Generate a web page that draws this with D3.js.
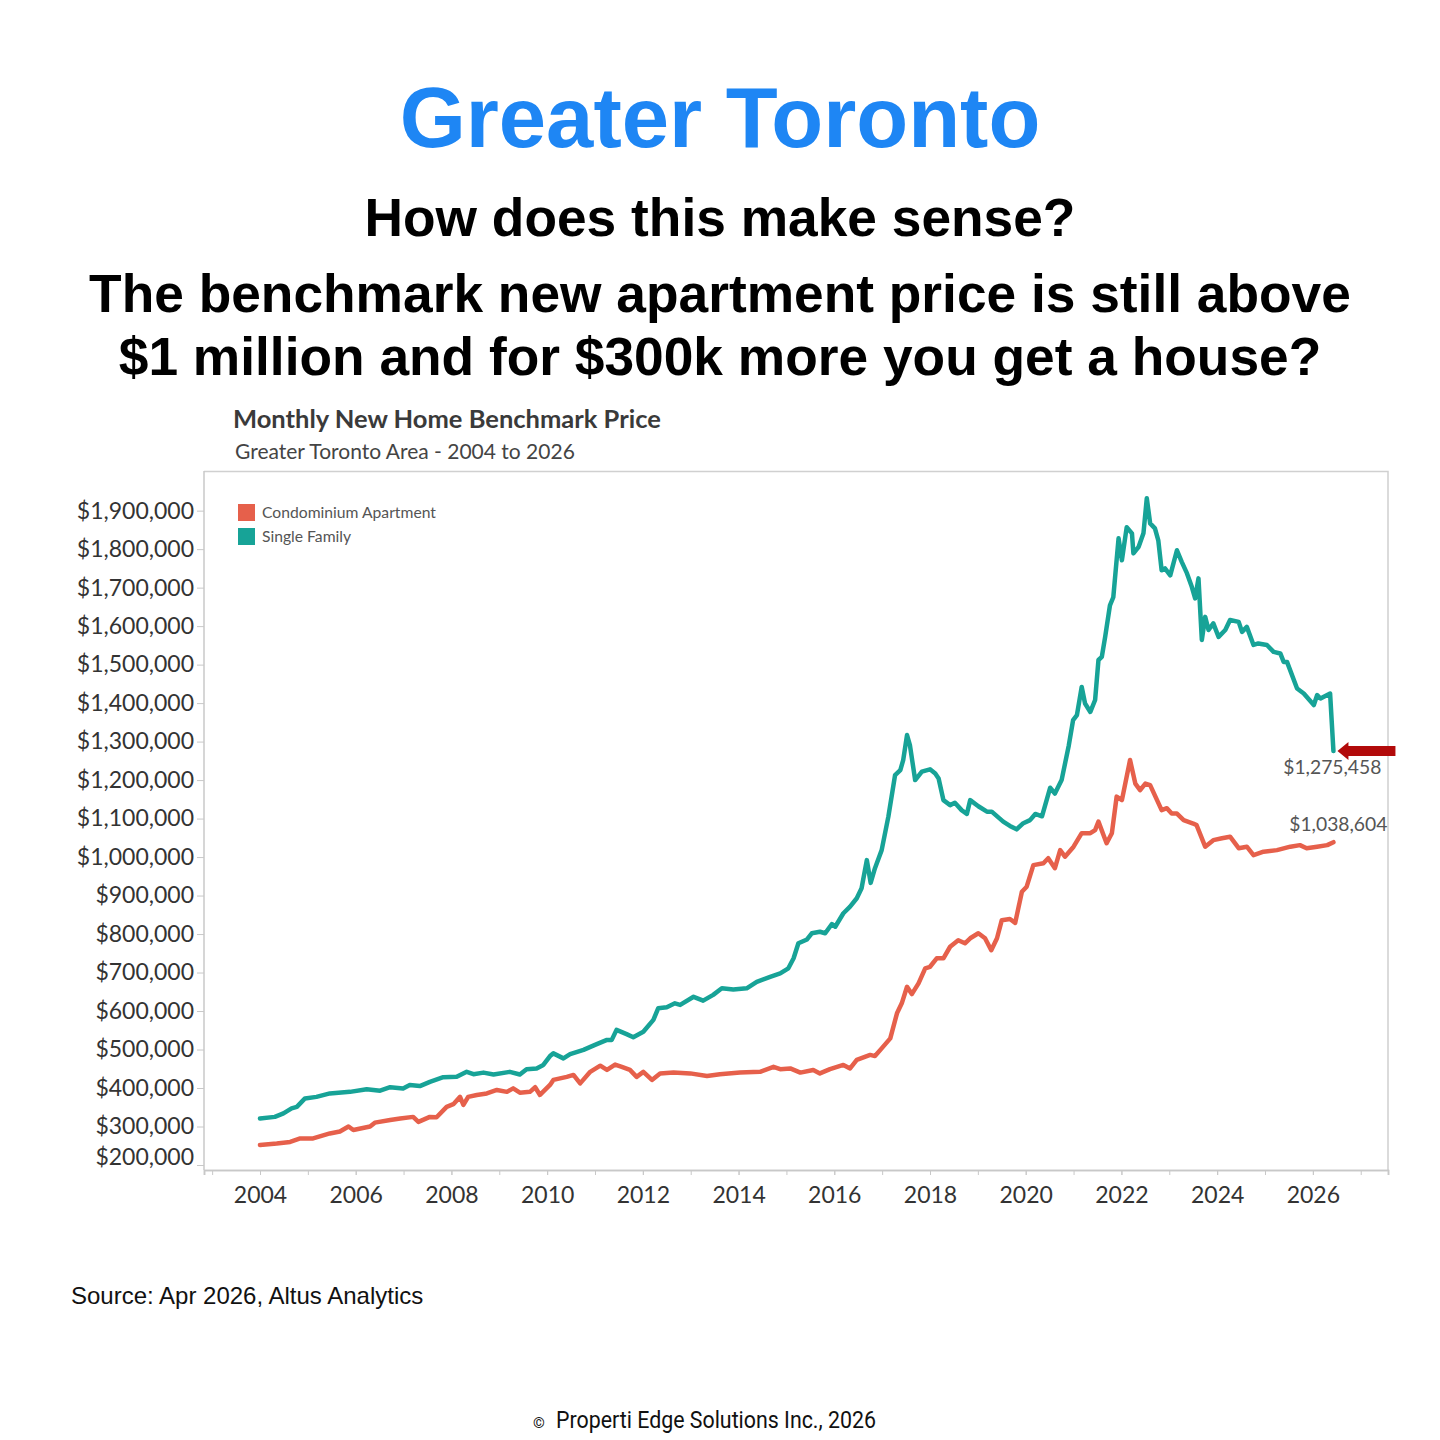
<!DOCTYPE html>
<html>
<head>
<meta charset="utf-8">
<script src="https://cdn.jsdelivr.net/npm/d3@7"></script>
<style>
  body { margin: 0; background: #fff; }
  svg { display: block; }
</style>
</head>
<body>
<div id="vis"></div>
<script>
// monthly new home benchmark price
let sfYears = [2004.00,2004.31,2004.49,2004.66,2004.77,2004.94,2005.18,2005.46,2005.88,2006.23,2006.51,2006.72,2006.99,2007.13,2007.34,2007.55,2007.83,2008.11,2008.32,2008.46,2008.67,2008.88,2009.22,2009.43,2009.57,2009.78,2009.92,2010.06,2010.13,2010.34,2010.48,2010.76,2011.00,2011.25,2011.35,2011.45,2011.66,2011.80,2012.01,2012.22,2012.32,2012.50,2012.67,2012.78,2013.06,2013.26,2013.47,2013.65,2013.89,2014.17,2014.38,2014.66,2014.87,2015.04,2015.15,2015.25,2015.43,2015.53,2015.70,2015.81,2015.95,2016.02,2016.19,2016.33,2016.47,2016.57,2016.68,2016.76,2016.85,2016.99,2017.13,2017.27,2017.38,2017.44,2017.52,2017.58,2017.69,2017.83,2018.00,2018.11,2018.18,2018.28,2018.42,2018.52,2018.66,2018.77,2018.84,2019.01,2019.19,2019.29,2019.53,2019.67,2019.81,2019.95,2020.09,2020.20,2020.34,2020.51,2020.61,2020.75,2020.90,2020.99,2021.07,2021.17,2021.24,2021.35,2021.45,2021.52,2021.59,2021.66,2021.76,2021.83,2021.94,2022.01,2022.11,2022.22,2022.25,2022.36,2022.46,2022.53,2022.60,2022.70,2022.77,2022.84,2022.91,2023.02,2023.16,2023.26,2023.37,2023.47,2023.54,2023.61,2023.68,2023.75,2023.82,2023.92,2024.03,2024.17,2024.27,2024.45,2024.52,2024.62,2024.76,2024.86,2025.04,2025.18,2025.32,2025.39,2025.46,2025.67,2025.81,2026.02,2026.09,2026.16,2026.36,2026.43]
let sfValues = [321000,325000,334000,347000,351000,373000,377000,386000,390000,397000,393000,402000,399000,408000,405000,416000,428000,429000,442000,436000,440000,435000,442000,435000,449000,451000,460000,483000,490000,477000,488000,499000,512000,525000,525000,551000,540000,532000,546000,577000,607000,610000,620000,616000,637000,627000,642000,659000,656000,659000,676000,689000,698000,711000,737000,776000,786000,802000,806000,802000,826000,819000,854000,871000,893000,919000,992000,933000,971000,1018000,1105000,1213000,1226000,1252000,1317000,1291000,1200000,1222000,1228000,1217000,1204000,1148000,1135000,1141000,1122000,1112000,1148000,1132000,1118000,1118000,1092000,1081000,1072000,1088000,1096000,1112000,1106000,1180000,1165000,1200000,1290000,1356000,1369000,1442000,1399000,1377000,1408000,1512000,1520000,1572000,1654000,1675000,1828000,1771000,1857000,1841000,1789000,1806000,1841000,1932000,1867000,1854000,1823000,1745000,1750000,1732000,1797000,1767000,1737000,1702000,1672000,1724000,1564000,1624000,1590000,1607000,1572000,1590000,1616000,1611000,1585000,1598000,1551000,1555000,1551000,1533000,1529000,1507000,1507000,1438000,1425000,1395000,1421000,1412000,1425000,1275458]

let condoYears = [2004.00,2004.35,2004.63,2004.84,2005.11,2005.46,2005.67,2005.85,2005.95,2006.30,2006.40,2006.72,2006.93,2007.20,2007.31,2007.55,2007.69,2007.90,2008.04,2008.18,2008.25,2008.35,2008.53,2008.74,2008.95,2009.16,2009.29,2009.43,2009.64,2009.75,2009.85,2010.06,2010.13,2010.41,2010.55,2010.69,2010.90,2011.11,2011.25,2011.42,2011.56,2011.73,2011.87,2012.01,2012.19,2012.36,2012.64,2012.99,2013.34,2013.61,2014.03,2014.45,2014.73,2014.87,2015.08,2015.29,2015.56,2015.70,2015.91,2016.19,2016.33,2016.47,2016.75,2016.85,2016.99,2017.17,2017.31,2017.41,2017.52,2017.62,2017.76,2017.90,2018.00,2018.14,2018.28,2018.42,2018.59,2018.73,2018.84,2019.01,2019.15,2019.28,2019.40,2019.50,2019.67,2019.78,2019.92,2020.02,2020.16,2020.37,2020.47,2020.61,2020.72,2020.82,2021.00,2021.17,2021.35,2021.45,2021.52,2021.69,2021.80,2021.90,2022.01,2022.18,2022.29,2022.39,2022.50,2022.60,2022.84,2022.95,2023.05,2023.16,2023.30,2023.50,2023.57,2023.75,2023.92,2024.10,2024.27,2024.45,2024.62,2024.76,2024.97,2025.25,2025.53,2025.73,2025.87,2026.09,2026.30,2026.43]
let condoValues = [252000,256000,260000,269000,269000,282000,287000,300000,291000,300000,310000,317000,321000,325000,312000,325000,324000,351000,358000,377000,356000,377000,382000,386000,395000,390000,399000,388000,390000,402000,382000,408000,421000,429000,434000,412000,442000,458000,447000,461000,455000,447000,429000,442000,421000,438000,440000,438000,431000,436000,440000,442000,455000,449000,451000,440000,447000,438000,449000,460000,451000,473000,486000,483000,503000,529000,594000,620000,663000,644000,672000,711000,715000,737000,737000,767000,784000,776000,789000,802000,789000,758000,789000,836000,839000,829000,910000,923000,979000,984000,997000,971000,1018000,1001000,1027000,1062000,1062000,1070000,1092000,1036000,1062000,1157000,1148000,1252000,1191000,1174000,1191000,1187000,1122000,1127000,1113000,1113000,1096000,1087000,1083000,1027000,1044000,1049000,1053000,1023000,1027000,1005000,1014000,1018000,1027000,1031000,1023000,1027000,1031000,1038604]

let seriesNames = ['Condominium Apartment', 'Single Family']
let seriesColors = ['#e6604b', '#17a397']

let yTickValues = d3.range(200000, 1900001, 100000)
let xLabelYears = d3.range(2004, 2027, 2)
let xMinorYears = d3.range(2003, 2028, 1)

let width = 1440, height = 1440
let margin = {top: 471, right: 52, bottom: 270, left: 204}

let svg = d3.select('#vis')
  .append('svg')
  .attr('width', width)
  .attr('height', height)

svg.append('rect').attr('width', width).attr('height', height).attr('fill', '#fff')

// headline texts
svg.append('text')
  .attr('x', 720).attr('y', 147)
  .attr('text-anchor', 'middle')
  .style('font-family', 'Liberation Sans, Arial, sans-serif')
  .style('font-weight', 'bold')
  .style('font-size', '85px')
  .attr('fill', '#1e86f4')
  .text('Greater Toronto')

let heads = [
  {t: 'How does this make sense?', y: 236},
  {t: 'The benchmark new apartment price is still above', y: 312},
  {t: '$1 million and for $300k more you get a house?', y: 375}
]
svg.selectAll('.head')
  .data(heads)
  .join('text')
  .attr('class', 'head')
  .attr('x', 720)
  .attr('y', d => d.y)
  .attr('text-anchor', 'middle')
  .style('font-family', 'Liberation Sans, Arial, sans-serif')
  .style('font-weight', 'bold')
  .style('font-size', '53.3px')
  .attr('fill', '#000')
  .text(d => d.t)

// chart title
svg.append('text')
  .attr('x', 233).attr('y', 428)
  .style('font-family', 'Lato, sans-serif')
  .style('font-weight', 'bold')
  .style('font-size', '25.5px')
  .attr('fill', '#3a3a3a')
  .text('Monthly New Home Benchmark Price')

svg.append('text')
  .attr('x', 235).attr('y', 459)
  .style('font-family', 'Lato, sans-serif')
  .style('font-size', '21px')
  .attr('fill', '#444')
  .text('Greater Toronto Area - 2004 to 2026')

let innerW = width - margin.left - margin.right
let innerH = height - margin.top - margin.bottom

let g = svg.append('g')
  .attr('transform', `translate(${margin.left},${margin.top})`)

let xScale = d3.scaleLinear()
  .domain([2002.83, 2027.57])
  .range([0, innerW])

let yScale = d3.scaleLinear()
  .domain([187000, 2003000])
  .range([innerH, 0])

// frame top + right
g.append('path')
  .attr('d', `M0,0.5H${innerW}V${innerH}`)
  .attr('fill', 'none')
  .attr('stroke', '#d0d0d0')
  .attr('stroke-width', 1.5)

// x axis
let xMinor = g.append('g')
  .attr('transform', `translate(0,${innerH})`)
  .call(d3.axisBottom(xScale).tickValues(xMinorYears).tickSize(5).tickFormat(''))

let xAxis = g.append('g')
  .attr('transform', `translate(0,${innerH})`)
  .call(d3.axisBottom(xScale).tickValues(xLabelYears).tickSize(5).tickPadding(12).tickFormat(d3.format('d')))

// y axis
let yAxis = g.append('g')
  .call(d3.axisLeft(yScale).tickValues(yTickValues).tickSize(7).tickPadding(3).tickFormat(d3.format('$,')))

;[xMinor, xAxis, yAxis].forEach(ax => {
  ax.select('.domain').attr('stroke', '#c8c8c8').attr('stroke-width', 1.5)
  ax.selectAll('.tick line').attr('stroke', '#c8c8c8')
  ax.selectAll('.tick text')
    .style('font-family', 'Lato, sans-serif')
    .style('font-size', '23px')
    .attr('fill', '#333')
})
yAxis.select('.domain').attr('d', `M0,${innerH}V0`)

// bottom label would collide with the axis, nudge it up
yAxis.selectAll('.tick text')
  .filter(d => d === 200000)
  .attr('y', -8)

// lines
let lineGen = d3.line()
  .x(d => xScale(d[0]))
  .y(d => yScale(d[1]))

let condoData = condoYears.map((yr, i) => [yr, condoValues[i]])
let sfData = sfYears.map((yr, i) => [yr, sfValues[i]])

g.append('path')
  .datum(condoData)
  .attr('d', lineGen)
  .attr('fill', 'none')
  .attr('stroke', seriesColors[0])
  .attr('stroke-width', 4.5)
  .attr('stroke-linejoin', 'round')
  .attr('stroke-linecap', 'round')

g.append('path')
  .datum(sfData)
  .attr('d', lineGen)
  .attr('fill', 'none')
  .attr('stroke', seriesColors[1])
  .attr('stroke-width', 4.5)
  .attr('stroke-linejoin', 'round')
  .attr('stroke-linecap', 'round')

// end labels
let sfLast = sfData[sfData.length - 1]
let condoLast = condoData[condoData.length - 1]
let endFmt = d3.format('$,')

g.append('text')
  .attr('x', xScale(sfLast[0]) + 48)
  .attr('y', yScale(sfLast[1]) + 23)
  .attr('text-anchor', 'end')
  .style('font-family', 'Lato, sans-serif')
  .style('font-size', '19.3px')
  .attr('fill', '#555')
  .text(endFmt(sfLast[1]))

g.append('text')
  .attr('x', xScale(condoLast[0]) + 54)
  .attr('y', yScale(condoLast[1]) - 11)
  .attr('text-anchor', 'end')
  .style('font-family', 'Lato, sans-serif')
  .style('font-size', '19.3px')
  .attr('fill', '#555')
  .text(endFmt(condoLast[1]))

// red arrow pointing at the single family end value
let ax0 = xScale(sfLast[0]) + 4, ay0 = yScale(sfLast[1])
g.append('path')
  .attr('d', `M${ax0},${ay0} L${ax0 + 11},${ay0 - 9} L${ax0 + 11},${ay0 - 5} L${ax0 + 58},${ay0 - 5} L${ax0 + 58},${ay0 + 5} L${ax0 + 11},${ay0 + 5} L${ax0 + 11},${ay0 + 9} Z`)
  .attr('fill', '#b20a0a')

// legend
let legend = svg.append('g')
  .attr('transform', 'translate(238,504)')

legend.selectAll('rect')
  .data(seriesNames)
  .join('rect')
  .attr('x', 0)
  .attr('y', (d, i) => i * 24)
  .attr('width', 17)
  .attr('height', 17)
  .attr('fill', (d, i) => seriesColors[i])

legend.selectAll('text')
  .data(seriesNames)
  .join('text')
  .attr('x', 24)
  .attr('y', (d, i) => i * 24 + 14)
  .style('font-family', 'Lato, sans-serif')
  .style('font-size', '15.7px')
  .attr('fill', '#555')
  .text(d => d)

// source + footer
svg.append('text')
  .attr('x', 71).attr('y', 1304)
  .style('font-family', 'Liberation Sans, Arial, sans-serif')
  .style('font-size', '24px')
  .attr('fill', '#111')
  .text('Source: Apr 2026, Altus Analytics')

svg.append('text')
  .attr('x', 533).attr('y', 1428)
  .style('font-family', 'Roboto, sans-serif')
  .style('font-size', '15px')
  .attr('fill', '#111')
  .text('©')

svg.append('text')
  .attr('x', 556).attr('y', 1428)
  .attr('textLength', 320)
  .attr('lengthAdjust', 'spacingAndGlyphs')
  .style('font-family', 'Roboto, sans-serif')
  .style('font-size', '24px')
  .attr('fill', '#111')
  .text('Properti Edge Solutions Inc., 2026')
</script>
</body>
</html>
